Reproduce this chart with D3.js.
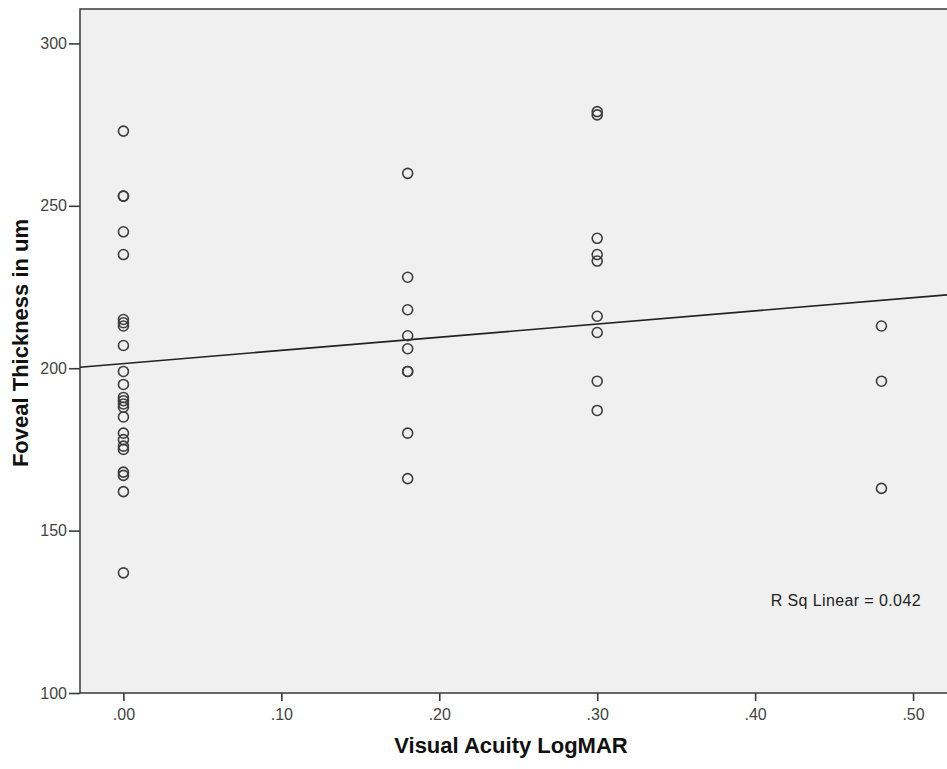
<!DOCTYPE html>
<meta charset="utf-8">
<title>Foveal thickness vs visual acuity</title>
<style>

body {
  margin: 0;
  background: #fff;
  font-family: "Liberation Sans", Arial, sans-serif;
}

</style>
<body>
</body>
<script src="https://cdn.jsdelivr.net/npm/d3@7"></script>
<script>

// visual acuity groups (logMAR) and foveal thickness
var acuity00 = [273, 253, 253, 242, 235, 215, 214, 213, 207, 199, 195, 191, 190,
                189, 188, 185, 180, 178, 176, 175, 168, 167, 162, 137];
var acuity18 = [260, 228, 218, 210, 206, 199, 199, 180, 166];
var acuity30 = [279, 278, 240, 235, 233, 216, 211, 196, 187];
var acuity48 = [213, 196, 163];

var groups = [
  {x: 0.00, ys: acuity00},
  {x: 0.18, ys: acuity18},
  {x: 0.30, ys: acuity30},
  {x: 0.48, ys: acuity48}
];

var xTicks = [0, 0.1, 0.2, 0.3, 0.4, 0.5];
var yTicks = [100, 150, 200, 250, 300];
var rsqText = "R Sq Linear = 0.042";

var width = 947,
    height = 769;

// plot frame (window.top is taken, so named edges)
var pLeft = 80, pTop = 9, pRight = 947, pBottom = 693;

var svg = d3.select("body").append("svg")
    .attr("width", width)
    .attr("height", height);

var x = d3.scaleLinear().domain([-0.0275, 0.5215]).range([pLeft, pRight]);
var y = d3.scaleLinear().domain([100, 310.6]).range([pBottom, pTop]);

// flatten into points
var points = [];
groups.forEach(function(g) {
  g.ys.forEach(function(v) { points.push({x: g.x, y: v}); });
});

// plot background
svg.append("rect")
    .attr("x", pLeft)
    .attr("y", pTop)
    .attr("width", pRight - pLeft + 2)
    .attr("height", pBottom - pTop)
    .attr("fill", "#f0f0f0")
    .attr("stroke", "#3a3a3a")
    .attr("stroke-width", 1.5);

// least squares fit line
var mx = d3.mean(points, function(d) { return d.x; }),
    my = d3.mean(points, function(d) { return d.y; });
var sxy = d3.sum(points, function(d) { return (d.x - mx) * (d.y - my); }),
    sxx = d3.sum(points, function(d) { return (d.x - mx) * (d.x - mx); });
var slope = sxy / sxx,
    icept = my - slope * mx;

var plot = svg.append("g");

var xd = x.domain();
plot.append("line")
    .attr("x1", x(xd[0]))
    .attr("y1", y(icept + slope * xd[0]))
    .attr("x2", x(xd[1]))
    .attr("y2", y(icept + slope * xd[1]))
    .attr("stroke", "#222")
    .attr("stroke-width", 1.6);

plot.selectAll("circle")
    .data(points)
  .enter().append("circle")
    .attr("cx", function(d) { return x(d.x); })
    .attr("cy", function(d) { return y(d.y); })
    .attr("r", 5)
    .attr("fill", "none")
    .attr("stroke", "#3c3c3c")
    .attr("stroke-width", 1.6);

// axes
var yAxis = svg.append("g")
    .attr("transform", "translate(" + pLeft + ",0)")
    .call(d3.axisLeft(y).tickValues(yTicks).tickSize(11).tickPadding(2).tickFormat(d3.format("d")));

var xAxis = svg.append("g")
    .attr("transform", "translate(0," + pBottom + ")")
    .call(d3.axisBottom(x).tickValues(xTicks).tickSize(8).tickPadding(8)
      .tickFormat(function(d) { return d3.format(".2f")(d).replace(/^0/, ""); }));

[xAxis, yAxis].forEach(function(a) {
  a.select(".domain").remove();
  a.selectAll("line").attr("stroke", "#3a3a3a").attr("stroke-width", 1.6);
  a.selectAll("text")
      .attr("fill", "#444")
      .style("font-family", "Liberation Sans, Arial, sans-serif")
      .style("font-size", "16px");
});

// titles
svg.append("text")
    .attr("x", 511)
    .attr("y", 753)
    .attr("text-anchor", "middle")
    .style("font-size", "22px")
    .style("font-weight", "bold")
    .attr("fill", "#111")
    .text("Visual Acuity LogMAR");

svg.append("text")
    .attr("transform", "translate(28,343) rotate(-90)")
    .attr("text-anchor", "middle")
    .style("font-size", "22px")
    .style("font-weight", "bold")
    .attr("fill", "#111")
    .text("Foveal Thickness in um");

svg.append("text")
    .attr("x", 921)
    .attr("y", 606)
    .attr("text-anchor", "end")
    .style("font-size", "16px")
    .style("letter-spacing", "0.4px")
    .attr("fill", "#222")
    .text(rsqText);

</script>
